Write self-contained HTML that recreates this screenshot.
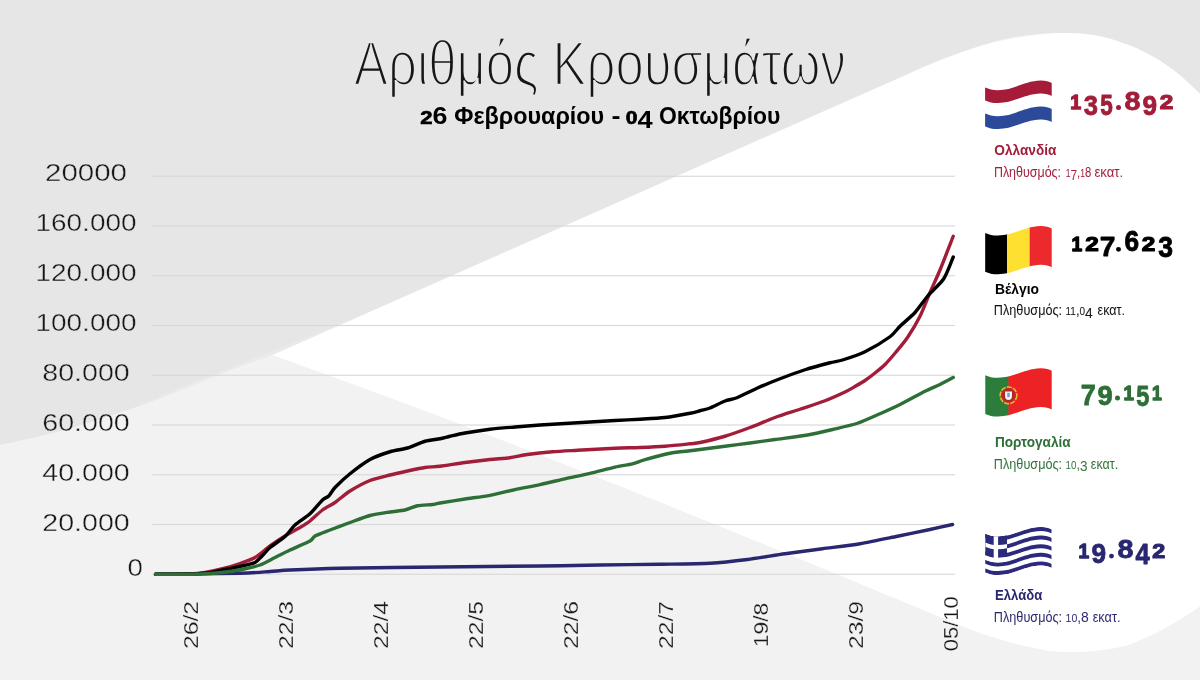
<!DOCTYPE html>
<html><head><meta charset="utf-8"><title>Αριθμός Κρουσμάτων</title>
<style>
html,body{margin:0;padding:0;background:#fff;}
body{width:1200px;height:680px;overflow:hidden;}
svg{display:block;font-family:"Liberation Sans",sans-serif;opacity:.999;}
.yl text{font-size:23px;}
.xl text{font-size:19.5px;}
.num{font-weight:bold;font-size:27px;}
</style></head><body>
<svg width="1200" height="680" viewBox="0 0 1200 680">
<defs><clipPath id="fc"><path d="M0,7 C4,8.7 8,9.7 13,9.6 C29,9.3 39,0.6 55.5,0 C60,-0.1 64,1 66.6,2.5 L66.6,41.3 C64,39.8 60,38.7 55.5,38.8 C39,39.4 29,48.1 13,48.4 C8,48.5 4,47.5 0,45.8 Z"/></clipPath><clipPath id="cc"><rect x="0" y="-2" width="21.9" height="60"/></clipPath>
<mask id="thin" maskUnits="userSpaceOnUse" x="0" y="0" width="1200" height="680">
<g fill="#fff" stroke="#000">
<text x="354.1" y="84.8" font-size="62.3" stroke-width="2.4" textLength="491.8" lengthAdjust="spacingAndGlyphs">Αριθμός Κρουσμάτων</text>
<g class="yl" stroke-width=".45"><text x="45" y="181.25" textLength="82" lengthAdjust="spacingAndGlyphs">20000</text><text x="35.5" y="231.25" textLength="101" lengthAdjust="spacingAndGlyphs">160.000</text><text x="35.5" y="281.25" textLength="101" lengthAdjust="spacingAndGlyphs">120.000</text><text x="35.5" y="331.25" textLength="101" lengthAdjust="spacingAndGlyphs">100.000</text><text x="42.25" y="381.25" textLength="87.5" lengthAdjust="spacingAndGlyphs">80.000</text><text x="42.25" y="431.25" textLength="87.5" lengthAdjust="spacingAndGlyphs">60.000</text><text x="42.25" y="481.25" textLength="87.5" lengthAdjust="spacingAndGlyphs">40.000</text><text x="42.25" y="531.25" textLength="87.5" lengthAdjust="spacingAndGlyphs">20.000</text><text x="127.6" y="576.25" textLength="15.4" lengthAdjust="spacingAndGlyphs">0</text></g>
<g class="xl" stroke-width=".35"><text transform="translate(198,649) rotate(-90)" textLength="48" lengthAdjust="spacingAndGlyphs">26/2</text><text transform="translate(293,649) rotate(-90)" textLength="48" lengthAdjust="spacingAndGlyphs">22/3</text><text transform="translate(388,649) rotate(-90)" textLength="48" lengthAdjust="spacingAndGlyphs">22/4</text><text transform="translate(483,649) rotate(-90)" textLength="48" lengthAdjust="spacingAndGlyphs">22/5</text><text transform="translate(578,649) rotate(-90)" textLength="48" lengthAdjust="spacingAndGlyphs">22/6</text><text transform="translate(673,649) rotate(-90)" textLength="48" lengthAdjust="spacingAndGlyphs">22/7</text><text transform="translate(768,647.25) rotate(-90)" textLength="44.5" lengthAdjust="spacingAndGlyphs">19/8</text><text transform="translate(863,649) rotate(-90)" textLength="48" lengthAdjust="spacingAndGlyphs">23/9</text><text transform="translate(958,651.2) rotate(-90)" textLength="55" lengthAdjust="spacingAndGlyphs">05/10</text></g>
<g stroke-width=".08"><text x="993.89" y="176.9" font-size="14" font-weight="normal" textLength="67.20" lengthAdjust="spacingAndGlyphs">Πληθυσμός:</text><text x="1065.65" y="176.9" font-size="14" font-weight="normal" textLength="25.58" lengthAdjust="spacingAndGlyphs"><tspan font-size="10.64">1</tspan><tspan font-size="14.84" dy="2.66">7</tspan><tspan dy="-2.66">,</tspan><tspan font-size="10.64">1</tspan>8</text><text x="1094.53" y="176.9" font-size="14" font-weight="normal" textLength="28.68" lengthAdjust="spacingAndGlyphs">εκατ.</text><text x="993.87" y="314.9" font-size="14" font-weight="normal" textLength="68.23" lengthAdjust="spacingAndGlyphs">Πληθυσμός:</text><text x="1065.55" y="314.9" font-size="14" font-weight="normal" textLength="27.29" lengthAdjust="spacingAndGlyphs"><tspan font-size="10.64">1</tspan><tspan font-size="10.64">1</tspan>,<tspan font-size="10.64">0</tspan><tspan font-size="14.84" dy="2.66">4</tspan></text><text x="1097.55" y="314.9" font-size="14" font-weight="normal" textLength="27.40" lengthAdjust="spacingAndGlyphs">εκατ.</text><text x="993.87" y="468.5" font-size="14" font-weight="normal" textLength="68.23" lengthAdjust="spacingAndGlyphs">Πληθυσμός:</text><text x="1065.56" y="468.5" font-size="14" font-weight="normal" textLength="22.07" lengthAdjust="spacingAndGlyphs"><tspan font-size="10.64">1</tspan><tspan font-size="10.64">0</tspan>,<tspan font-size="14.84" dy="2.66">3</tspan></text><text x="1090.80" y="468.5" font-size="14" font-weight="normal" textLength="27.35" lengthAdjust="spacingAndGlyphs">εκατ.</text><text x="993.87" y="621.5" font-size="14" font-weight="normal" textLength="68.23" lengthAdjust="spacingAndGlyphs">Πληθυσμός:</text><text x="1065.51" y="621.5" font-size="14" font-weight="normal" textLength="23.32" lengthAdjust="spacingAndGlyphs"><tspan font-size="10.64">1</tspan><tspan font-size="10.64">0</tspan>,8</text><text x="1092.65" y="621.5" font-size="14" font-weight="normal" textLength="27.83" lengthAdjust="spacingAndGlyphs">εκατ.</text></g>
</g></mask>
</defs>
<rect width="1200" height="680" fill="#f2f2f2"/>
<path d="M272,355 L900,77.5 C925,66 950,56 975,47.5 C1000,40 1025,35.5 1050,33.25 L1200,20 L1200,606.25 C1175,623.75 1150,637.5 1125,646.25 C1100,651.75 1075,653 1050,651.25 C1025,647 1000,640 975,631.25 L950,621.25 Q556.8,456.1 272,355 Z" fill="#fff"/>
<path d="M0,0 L1200,0 L1200,93.75 C1192,86 1184,78 1175,71.25 C1167,65 1159,59.5 1150,55 C1142,50.5 1134,46.5 1125,43.75 C1117,40.5 1109,38 1100,36.25 C1092,34.5 1084,33.5 1075,33.25 C1067,32.9 1059,32.9 1050,33.25 C1042,33.6 1034,34.3 1025,35.5 C1017,36.7 1009,38 1000,40 C992,42 984,44.5 975,47.5 C967,50 959,53 950,56 C942,59 934,62.5 925,66 C917,69.5 909,73.5 900,77.5 L272,355 C257,360.5 241,366 225,372 C200,382 175,392.5 150,402 C125,411 100,419.5 75,427 C50,434 25,440 0,445 Z" fill="#e6e6e6"/>
<path d="M272,355 L367,313 L137,405 C160,398 200,382 225,372 C241,366 257,360.5 272,355 Z" fill="#eaeaea"/>
<rect x="152.3" y="175.70" width="802.7" height="1.1" fill="#d8d8d8"/><rect x="152.3" y="225.45" width="802.7" height="1.1" fill="#d8d8d8"/><rect x="152.3" y="275.20" width="802.7" height="1.1" fill="#d8d8d8"/><rect x="152.3" y="324.95" width="802.7" height="1.1" fill="#d8d8d8"/><rect x="152.3" y="374.70" width="802.7" height="1.1" fill="#d8d8d8"/><rect x="152.3" y="424.45" width="802.7" height="1.1" fill="#d8d8d8"/><rect x="152.3" y="474.20" width="802.7" height="1.1" fill="#d8d8d8"/><rect x="152.3" y="523.95" width="802.7" height="1.1" fill="#d8d8d8"/><rect x="152.3" y="573.70" width="802.7" height="1.1" fill="#d8d8d8"/>
<path d="M155.5,574.25 C166.06,574.12 225.69,573.59 240,573.25 C254.31,572.91 263.75,571.91 270,571.5 C276.25,571.09 281.25,570.41 290,570 C298.75,569.59 321.25,568.62 340,568.25 C358.75,567.88 415.00,567.28 440,567 C465.00,566.72 520.00,566.25 540,566 C560.00,565.75 585.00,565.22 600,565 C615.00,564.78 646.25,564.47 660,564.25 C673.75,564.03 699.06,563.84 710,563.25 C720.94,562.66 738.12,560.69 747.5,559.5 C756.88,558.31 775.62,555.09 785,553.75 C794.38,552.41 813.12,550.00 822.5,548.75 C831.88,547.50 850.62,545.31 860,543.75 C869.38,542.19 888.75,538.03 897.5,536.25 C906.25,534.47 923.12,530.97 930,529.5 C936.88,528.03 949.69,525.12 952.5,524.5" fill="none" stroke="#28276f" stroke-width="3.4" stroke-linecap="round" stroke-linejoin="round"/>
<path d="M155.5,574.25 C159.81,574.22 183.81,574.22 190,574 C196.19,573.78 200.94,573.16 205,572.5 C209.06,571.84 218.12,569.88 222.5,568.75 C226.88,567.62 235.94,564.91 240,563.5 C244.06,562.09 251.25,559.69 255,557.5 C258.75,555.31 266.25,548.69 270,546 C273.75,543.31 281.25,538.31 285,536 C288.75,533.69 296.88,529.38 300,527.5 C303.12,525.62 307.19,523.19 310,521 C312.81,518.81 319.38,512.31 322.5,510 C325.62,507.69 331.56,504.88 335,502.5 C338.44,500.12 345.62,493.75 350,491 C354.38,488.25 365.00,482.50 370,480.5 C375.00,478.50 385.31,476.19 390,475 C394.69,473.81 403.12,471.94 407.5,471 C411.88,470.06 420.94,468.09 425,467.5 C429.06,466.91 435.00,466.88 440,466.25 C445.00,465.62 458.75,463.34 465,462.5 C471.25,461.66 484.38,460.09 490,459.5 C495.62,458.91 505.31,458.38 510,457.75 C514.69,457.12 522.19,455.25 527.5,454.5 C532.81,453.75 546.25,452.28 552.5,451.75 C558.75,451.22 569.69,450.69 577.5,450.25 C585.31,449.81 607.19,448.59 615,448.25 C622.81,447.91 633.75,447.75 640,447.5 C646.25,447.25 658.75,446.72 665,446.25 C671.25,445.78 685.62,444.22 690,443.75 C694.38,443.28 695.62,443.44 700,442.5 C704.38,441.56 718.75,438.12 725,436.25 C731.25,434.38 743.75,429.84 750,427.5 C756.25,425.16 768.75,419.78 775,417.5 C781.25,415.22 793.75,411.34 800,409.25 C806.25,407.16 819.38,402.91 825,400.75 C830.62,398.59 841.25,393.78 845,392 C848.75,390.22 852.50,387.94 855,386.5 C857.50,385.06 862.50,382.19 865,380.5 C867.50,378.81 872.50,375.00 875,373 C877.50,371.00 882.38,367.12 885,364.5 C887.62,361.88 893.19,355.38 896,352 C898.81,348.62 904.50,341.97 907.5,337.5 C910.50,333.03 917.19,321.88 920,316.25 C922.81,310.62 927.50,298.28 930,292.5 C932.50,286.72 937.09,277.03 940,270 C942.91,262.97 951.59,240.47 953.25,236.25" fill="none" stroke="#a21d39" stroke-width="3.4" stroke-linecap="round" stroke-linejoin="round"/>
<path d="M155.5,574.25 C159.81,574.22 183.19,574.21 190,574 C196.81,573.79 205.62,573.16 210,572.6 C214.38,572.04 221.25,570.26 225,569.5 C228.75,568.74 236.25,567.38 240,566.5 C243.75,565.62 252.25,563.81 255,562.5 C257.75,561.19 260.12,557.88 262,556 C263.88,554.12 267.12,549.94 270,547.5 C272.88,545.06 281.88,539.31 285,536.5 C288.12,533.69 291.88,527.84 295,525 C298.12,522.16 306.56,516.88 310,513.75 C313.44,510.62 320.16,502.22 322.5,500 C324.84,497.78 327.19,497.56 328.75,496 C330.31,494.44 332.34,490.28 335,487.5 C337.66,484.72 345.62,477.25 350,473.75 C354.38,470.25 365.00,462.25 370,459.5 C375.00,456.75 385.31,453.19 390,451.75 C394.69,450.31 403.12,449.31 407.5,448 C411.88,446.69 420.94,442.41 425,441.25 C429.06,440.09 436.88,439.38 440,438.75 C443.12,438.12 446.88,436.97 450,436.25 C453.12,435.53 460.00,433.88 465,433 C470.00,432.12 483.75,430.00 490,429.25 C496.25,428.50 508.75,427.53 515,427 C521.25,426.47 533.75,425.44 540,425 C546.25,424.56 558.75,423.88 565,423.5 C571.25,423.12 583.75,422.38 590,422 C596.25,421.62 608.75,420.84 615,420.5 C621.25,420.16 633.75,419.62 640,419.25 C646.25,418.88 658.75,418.25 665,417.5 C671.25,416.75 685.62,414.09 690,413.25 C694.38,412.41 697.50,411.41 700,410.75 C702.50,410.09 706.88,409.22 710,408 C713.12,406.78 721.56,402.31 725,401 C728.44,399.69 733.44,399.12 737.5,397.5 C741.56,395.88 752.19,390.34 757.5,388 C762.81,385.66 774.06,381.03 780,378.75 C785.94,376.47 798.75,371.75 805,369.75 C811.25,367.75 825.31,363.97 830,362.75 C834.69,361.53 838.12,361.38 842.5,360 C846.88,358.62 859.06,354.66 865,351.75 C870.94,348.84 885.62,339.94 890,336.75 C894.38,333.56 896.88,329.28 900,326.25 C903.12,323.22 911.56,316.25 915,312.5 C918.44,308.75 923.91,300.47 927.5,296.25 C931.09,292.03 940.53,283.66 943.75,278.75 C946.97,273.84 952.06,259.72 953.25,257" fill="none" stroke="#000" stroke-width="3.4" stroke-linecap="round" stroke-linejoin="round"/>
<path d="M155.5,574.25 C161.06,574.22 190.69,574.34 200,574 C209.31,573.66 224.38,572.16 230,571.5 C235.62,570.84 241.25,569.56 245,568.75 C248.75,567.94 256.25,566.41 260,565 C263.75,563.59 271.25,559.38 275,557.5 C278.75,555.62 285.62,552.06 290,550 C294.38,547.94 306.88,542.75 310,541 C313.12,539.25 312.50,537.38 315,536 C317.50,534.62 325.62,531.69 330,530 C334.38,528.31 345.00,524.31 350,522.5 C355.00,520.69 365.00,516.81 370,515.5 C375.00,514.19 385.62,512.69 390,512 C394.38,511.31 401.56,510.78 405,510 C408.44,509.22 414.06,506.44 417.5,505.75 C420.94,505.06 429.69,504.84 432.5,504.5 C435.31,504.16 435.94,503.69 440,503 C444.06,502.31 458.75,499.96 465,499 C471.25,498.04 483.75,496.48 490,495.3 C496.25,494.12 508.75,490.89 515,489.55 C521.25,488.21 533.75,485.89 540,484.55 C546.25,483.21 558.75,480.21 565,478.8 C571.25,477.39 583.75,474.77 590,473.3 C596.25,471.83 609.69,468.24 615,467.05 C620.31,465.86 628.75,464.74 632.5,463.8 C636.25,462.86 640.31,460.87 645,459.55 C649.69,458.23 664.38,454.35 670,453.25 C675.62,452.15 686.25,451.22 690,450.75 C693.75,450.28 695.62,450.06 700,449.5 C704.38,448.94 718.75,447.06 725,446.25 C731.25,445.44 743.75,443.84 750,443 C756.25,442.16 767.81,440.50 775,439.5 C782.19,438.50 800.31,436.25 807.5,435 C814.69,433.75 826.25,430.97 832.5,429.5 C838.75,428.03 851.56,425.22 857.5,423.25 C863.44,421.28 874.69,416.09 880,413.75 C885.31,411.41 894.38,407.31 900,404.5 C905.62,401.69 920.00,393.75 925,391.25 C930.00,388.75 936.47,386.22 940,384.5 C943.53,382.78 951.59,378.38 953.25,377.5" fill="none" stroke="#2e6f37" stroke-width="3.4" stroke-linecap="round" stroke-linejoin="round"/>
<g mask="url(#thin)"><rect x="0" y="0" width="970" height="680" fill="#161616"/><rect x="970" y="160" width="230" height="30" fill="#a21d39"/><rect x="970" y="300" width="230" height="30" fill="#111"/><rect x="970" y="452" width="230" height="30" fill="#2e6f37"/><rect x="970" y="605" width="230" height="30" fill="#28276f"/></g>
<text x="420.21" y="123.7" font-size="23" font-weight="bold" fill="#000" textLength="27.22" lengthAdjust="spacingAndGlyphs"><tspan font-size="18.86" stroke="#000" stroke-width=".7">2</tspan>6</text><text x="454.24" y="123.7" font-size="23" font-weight="bold" fill="#000" textLength="149.98" lengthAdjust="spacingAndGlyphs">Φεβρουαρίου</text><text x="611.57" y="123.7" font-size="23" font-weight="bold" fill="#000" textLength="9.02" lengthAdjust="spacingAndGlyphs">-</text><text x="625.69" y="123.7" font-size="23" font-weight="bold" fill="#000" textLength="26.88" lengthAdjust="spacingAndGlyphs"><tspan font-size="18.86" stroke="#000" stroke-width=".7">0</tspan><tspan font-size="24.38" dy="4.37">4</tspan></text><text x="659.00" y="123.7" font-size="23" font-weight="bold" fill="#000" textLength="121.37" lengthAdjust="spacingAndGlyphs">Οκτωβρίου</text>
<g transform="translate(985.1,80.6)"><path d="M0,7 C4,8.7 8,9.7 13,9.6 C29,9.3 39,0.6 55.5,0 C60,-0.1 64,1 66.6,2.5 L66.6,41.3 C64,39.8 60,38.7 55.5,38.8 C39,39.4 29,48.1 13,48.4 C8,48.5 4,47.5 0,45.8 Z" fill="#fff"/><path d="M0,7 C4,8.7 8,9.7 13,9.6 C29,9.3 39,0.6 55.5,0 C60,-0.1 64,1 66.6,2.5 L66.6,15.3 C64,13.8 60,12.7 55.5,12.8 C39,13.4 29,22.1 13,22.4 C8,22.5 4,21.5 0,19.8 Z" fill="#a61c38"/><path d="M0,33 C4,34.7 8,35.7 13,35.6 C29,35.3 39,26.6 55.5,26 C60,25.9 64,27 66.6,28.5 L66.6,41.3 C64,39.8 60,38.7 55.5,38.8 C39,39.4 29,48.1 13,48.4 C8,48.5 4,47.5 0,45.8 Z" fill="#2d4a9a"/></g><g transform="translate(985.1,225.9)" clip-path="url(#fc)"><rect x="0" y="-2" width="22.3" height="52" fill="#000"/><rect x="21.9" y="-2" width="23.2" height="52" fill="#fde030"/><rect x="44.6" y="-2" width="23" height="52" fill="#ec2a2e"/></g><g transform="translate(985.1,368.2)" clip-path="url(#fc)"><rect x="0" y="-2" width="23.8" height="52" fill="#2c7c3c"/><rect x="23.3" y="-2" width="44" height="52" fill="#ec2224"/><circle cx="23.4" cy="27.1" r="8.3" fill="none" stroke="#dcc028" stroke-width="1.7" stroke-dasharray="5 1.2"/><circle cx="23.4" cy="27.1" r="7.4" fill="#c4262a"/><circle cx="23.4" cy="27.1" r="5.6" fill="#a8272b"/><path d="M19.9,23.2 h7 v4.6 a3.5,4 0 0 1 -7,0 z" fill="#f1f1f4"/><rect x="22.2" y="24.6" width="2.4" height="4.2" fill="#5b78b8" opacity=".75"/></g><g transform="translate(985.1,526.8)" clip-path="url(#fc)"><rect x="0" y="-2" width="67" height="52" fill="#fff"/><path d="M0,7.15 C4,8.85 8,9.85 13,9.75 C29,9.45 39,0.75 55.5,0.15 C60,0.05 64,1.15 66.6,2.65 L66.6,6.66111 C64,5.16111 60,4.06111 55.5,4.16111 C39,4.76111 29,13.4611 13,13.7611 C8,13.8611 4,12.8611 0,11.1611 Z" fill="#2b2a7d"/><path d="M0,15.7722 C4,17.4722 8,18.4722 13,18.3722 C29,18.0722 39,9.37222 55.5,8.77222 C60,8.67222 64,9.77222 66.6,11.2722 L66.6,15.2833 C64,13.7833 60,12.6833 55.5,12.7833 C39,13.3833 29,22.0833 13,22.3833 C8,22.4833 4,21.4833 0,19.7833 Z" fill="#2b2a7d"/><path d="M0,24.3944 C4,26.0944 8,27.0944 13,26.9944 C29,26.6944 39,17.9944 55.5,17.3944 C60,17.2944 64,18.3944 66.6,19.8944 L66.6,23.9056 C64,22.4056 60,21.3056 55.5,21.4056 C39,22.0056 29,30.7056 13,31.0056 C8,31.1056 4,30.1056 0,28.4056 Z" fill="#2b2a7d"/><path d="M0,33.0167 C4,34.7167 8,35.7167 13,35.6167 C29,35.3167 39,26.6167 55.5,26.0167 C60,25.9167 64,27.0167 66.6,28.5167 L66.6,32.5278 C64,31.0278 60,29.9278 55.5,30.0278 C39,30.6278 29,39.3278 13,39.6278 C8,39.7278 4,38.7278 0,37.0278 Z" fill="#2b2a7d"/><path d="M0,41.6389 C4,43.3389 8,44.3389 13,44.2389 C29,43.9389 39,35.2389 55.5,34.6389 C60,34.5389 64,35.6389 66.6,37.1389 L66.6,41.15 C64,39.65 60,38.55 55.5,38.65 C39,39.25 29,47.95 13,48.25 C8,48.35 4,47.35 0,45.65 Z" fill="#2b2a7d"/><g clip-path="url(#cc)"><path d="M0,7 C4,8.7 8,9.7 13,9.6 C29,9.3 39,0.6 55.5,0 C60,-0.1 64,1 66.6,2.5 L66.6,23.9056 C64,22.4056 60,21.3056 55.5,21.4056 C39,22.0056 29,30.7056 13,31.0056 C8,31.1056 4,30.1056 0,28.4056 Z" fill="#2b2a7d"/><path d="M0,15.6222 C4,17.3222 8,18.3222 13,18.2222 C29,17.9222 39,9.22222 55.5,8.62222 C60,8.52222 64,9.62222 66.6,11.1222 L66.6,15.4333 C64,13.9333 60,12.8333 55.5,12.9333 C39,13.5333 29,22.2333 13,22.5333 C8,22.6333 4,21.6333 0,19.9333 Z" fill="#fff"/><path d="M8.6,0 h4.4 v33.5556 h-4.4z" fill="#fff"/><path d="M0,28.4056 C4,30.1056 8,31.1056 13,31.0056 C29,30.7056 39,22.0056 55.5,21.4056 C60,21.3056 64,22.4056 66.6,23.9056 L66.6,28.5167 C64,27.0167 60,25.9167 55.5,26.0167 C39,26.6167 29,35.3167 13,35.6167 C8,35.7167 4,34.7167 0,33.0167 Z" fill="#fff"/></g></g>
<text x="994.32" y="154.9" font-size="15" font-weight="bold" fill="#a21d39" textLength="62.13" lengthAdjust="spacingAndGlyphs">Ολλανδία</text><text x="994.98" y="293.7" font-size="15" font-weight="bold" fill="#000" textLength="44.00" lengthAdjust="spacingAndGlyphs">Βέλγιο</text><text x="994.89" y="446.7" font-size="15" font-weight="bold" fill="#2e6f37" textLength="75.77" lengthAdjust="spacingAndGlyphs">Πορτογαλία</text><text x="995.03" y="599.9" font-size="15" font-weight="bold" fill="#28276f" textLength="47.29" lengthAdjust="spacingAndGlyphs">Ελλάδα</text>
<g fill="#a21d39" stroke="#a21d39" stroke-width="0.8" stroke-linejoin="round" font-weight="bold" font-size="100"><text vector-effect="non-scaling-stroke" stroke-width="1.3" transform="matrix(0.1956,0,0,0.2064,1070.22,109.35)">1</text><text vector-effect="non-scaling-stroke" stroke-width="0.8" transform="matrix(0.2555,0,0,0.2847,1083.81,114.78)">3</text><text vector-effect="non-scaling-stroke" stroke-width="0.8" transform="matrix(0.2251,0,0,0.2895,1100.21,114.82)">5</text><circle stroke="none" cx="1118.5" cy="107.5" r="2.5"/><text vector-effect="non-scaling-stroke" stroke-width="0.8" transform="matrix(0.2877,0,0,0.2669,1124.49,109.54)">8</text><text vector-effect="non-scaling-stroke" stroke-width="0.8" transform="matrix(0.2622,0,0,0.2811,1142.49,114.53)">9</text><text vector-effect="non-scaling-stroke" stroke-width="1.3" transform="matrix(0.2430,0,0,0.2034,1159.81,109.35)">2</text></g><g fill="#000" stroke="#000" stroke-width="0.8" stroke-linejoin="round" font-weight="bold" font-size="100"><text vector-effect="non-scaling-stroke" stroke-width="1.3" transform="matrix(0.1913,0,0,0.2079,1071.45,251.15)">1</text><text vector-effect="non-scaling-stroke" stroke-width="1.3" transform="matrix(0.2430,0,0,0.2048,1085.31,251.15)">2</text><text vector-effect="non-scaling-stroke" stroke-width="0.8" transform="matrix(0.2813,0,0,0.2834,1099.69,256.10)">7</text><circle stroke="none" cx="1118.5" cy="249.35" r="2.475"/><text vector-effect="non-scaling-stroke" stroke-width="0.8" transform="matrix(0.2627,0,0,0.2924,1124.44,251.31)">6</text><text vector-effect="non-scaling-stroke" stroke-width="1.3" transform="matrix(0.2430,0,0,0.2048,1141.81,251.15)">2</text><text vector-effect="non-scaling-stroke" stroke-width="0.8" transform="matrix(0.2656,0,0,0.2889,1158.29,256.78)">3</text></g><g fill="#2e6f37" stroke="#2e6f37" stroke-width="0.8" stroke-linejoin="round" font-weight="bold" font-size="100"><text vector-effect="non-scaling-stroke" stroke-width="0.8" transform="matrix(0.2707,0,0,0.2863,1080.74,405.10)">7</text><text vector-effect="non-scaling-stroke" stroke-width="0.8" transform="matrix(0.2725,0,0,0.2811,1097.46,404.83)">9</text><circle stroke="none" cx="1117.5" cy="398" r="2.5"/><text vector-effect="non-scaling-stroke" stroke-width="1.3" transform="matrix(0.1870,0,0,0.2064,1123.47,399.85)">1</text><text vector-effect="non-scaling-stroke" stroke-width="0.8" transform="matrix(0.2351,0,0,0.2967,1136.18,405.81)">5</text><text vector-effect="non-scaling-stroke" stroke-width="1.3" transform="matrix(0.1762,0,0,0.2064,1152.04,399.85)">1</text></g><g fill="#28276f" stroke="#28276f" stroke-width="0.8" stroke-linejoin="round" font-weight="bold" font-size="100"><text vector-effect="non-scaling-stroke" stroke-width="1.3" transform="matrix(0.1913,0,0,0.2035,1078.45,557.85)">1</text><text vector-effect="non-scaling-stroke" stroke-width="0.8" transform="matrix(0.2622,0,0,0.2754,1091.49,562.83)">9</text><circle stroke="none" cx="1111.5" cy="556.1" r="2.45"/><text vector-effect="non-scaling-stroke" stroke-width="0.8" transform="matrix(0.2877,0,0,0.2641,1117.49,558.04)">8</text><text vector-effect="non-scaling-stroke" stroke-width="0.8" transform="matrix(0.2558,0,0,0.2863,1135.51,564.10)">4</text><text vector-effect="non-scaling-stroke" stroke-width="1.3" transform="matrix(0.2326,0,0,0.2005,1152.34,557.85)">2</text></g>
</svg>
</body></html>
